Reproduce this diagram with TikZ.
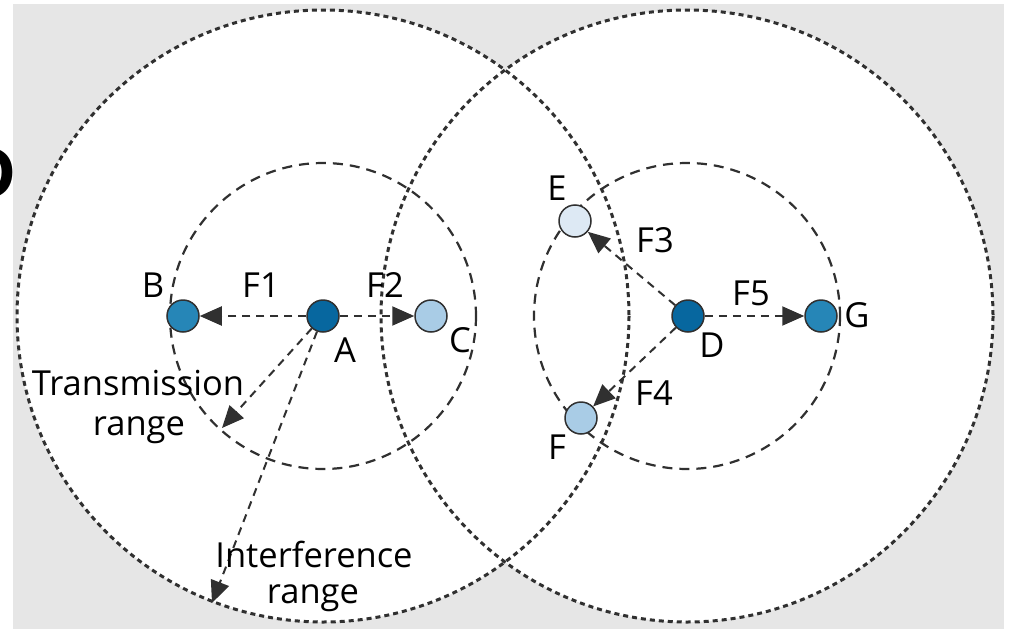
\documentclass[tikz,border=0pt]{standalone}
\usepackage{fontspec}
\setmainfont{Open Sans}
\newfontfamily\cutfont{Liberation Sans}
\usetikzlibrary{arrows.meta}
\definecolor{bggray}{HTML}{E6E6E6}
\definecolor{linegray}{HTML}{303030}
\definecolor{cdark}{HTML}{07679F}
\definecolor{cmid}{HTML}{2686B7}
\definecolor{clight}{HTML}{A9CCE6}
\definecolor{cpale}{HTML}{DDE9F4}
\tikzset{
  bigring/.style={draw=linegray, line width=3pt, dash pattern=on 5pt off 4pt},
  smallring/.style={draw=linegray, line width=2.2pt, dash pattern=on 10pt off 7pt},
  flow/.style={draw=linegray, line width=2pt, dash pattern=on 8pt off 6pt,
    -{Triangle[length=22pt,width=19pt]}},
  station/.style={circle, minimum size=32pt, inner sep=0pt, draw=linegray, line width=1.5pt},
  lbl/.style={anchor=base, inner sep=0pt, font=\fontsize{34.5}{40}\selectfont},
}
\begin{document}
\begin{tikzpicture}[x=1pt,y=-1pt]
\useasboundingbox (0,0) rectangle (1009,629);
\fill[bggray] (13,4) rectangle (1004,629);
\node[anchor=base east, inner sep=0pt, font=\cutfont\bfseries\fontsize{74}{80}\selectfont] (cut) at (16,198) {D};
% big ranges
\coordinate (cA) at (323,316);
\coordinate (cD) at (687,316);
\fill[white] (cA) circle[radius=306];
\fill[white] (cD) circle[radius=306];
\draw[bigring] (cA) circle[radius=306];
\draw[bigring] (cD) circle[radius=306];
% transmission ranges
\draw[smallring] (cA) circle[radius=153];
\draw[smallring] (cD) circle[radius=153];
% stations
\node[station, fill=cdark] (A) at (323,316) {};
\node[station, fill=cmid] (B) at (183,316) {};
\node[station, fill=clight] (C) at (431,316) {};
\node[station, fill=cdark] (D) at (688,316) {};
\node[station, fill=cpale] (E) at (575,221) {};
\node[station, fill=clight] (F) at (581,418) {};
\node[station, fill=cmid] (G) at (821,316) {};
\coordinate (tr) at (222,428);
\coordinate (ir) at (212,603);
% flows
\draw[flow] (A) -- (B);
\draw[flow] (A) -- (C);
\draw[flow] (A) -- (tr);
\draw[flow] (A) -- (ir);
\draw[flow] (D) -- (E);
\draw[flow] (D) -- (F);
\draw[flow] (D) -- (G);
% labels
\node[lbl] (lB) at (153,297) {B};
\node[lbl] (lF1) at (261,297) {F1};
\node[lbl] (lF2) at (385,297) {F2};
\node[lbl] (lA) at (345,362) {A};
\node[lbl] (lC) at (460,352) {C};
\node[lbl] (lE) at (557,200) {E};
\node[lbl] (lF3) at (655,252) {F3};
\node[lbl] (lF5) at (751,305) {F5};
\node[lbl] (lD) at (712,357) {D};
\node[lbl] (lG) at (857,327) {G};
\node[lbl] (lF4) at (654,405) {F4};
\node[lbl] (lF) at (557,459) {F};
\node[lbl] (lT1) at (138,395) {Transmission};
\node[lbl] (lT2) at (139,435) {range};
\node[lbl] (lI1) at (314,567) {Interference};
\node[lbl] (lI2) at (313,603) {range};
\end{tikzpicture}
\end{document}
